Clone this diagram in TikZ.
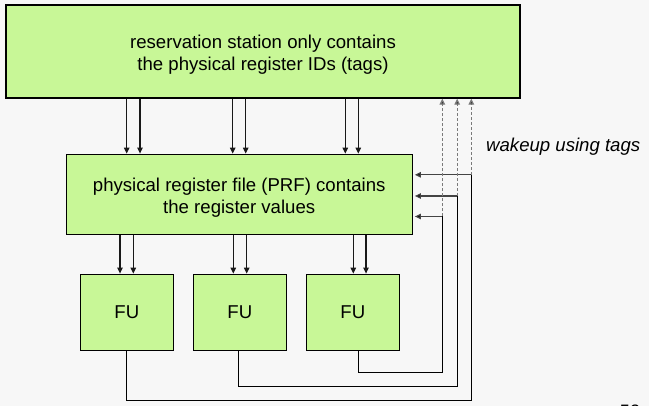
\documentclass[tikz,border=0pt]{standalone}
\usepackage{fontspec}
\setmainfont{Liberation Sans}
\usetikzlibrary{arrows.meta}
\definecolor{bg}{HTML}{F7F7F7}
\definecolor{boxgreen}{HTML}{C8F797}
\definecolor{dashgray}{HTML}{7A7A7A}
\definecolor{tipgray}{HTML}{444444}
\begin{document}
\begin{tikzpicture}[x=1pt,y=-1pt,
  box/.style={draw=black,line width=1.4pt,fill=boxgreen,inner sep=0pt},
  txt/.style={font=\fontsize{18.6}{21.8}\selectfont,align=center},
  feed/.style={draw=black!90,line width=1.2pt,-{Triangle[length=6pt,width=5.5pt]}},
  wire/.style={draw=black,line width=1.1pt},
  back/.style={draw=tipgray,line width=1.2pt,shorten >=2pt,-{Triangle[length=6pt,width=5.5pt,fill=black]}},
  tagline/.style={draw=dashgray,line width=1.3pt,dash pattern=on 3pt off 2pt,-{Triangle[length=6pt,width=5.5pt,fill=black]}}
]
\fill[bg] (0,0) rectangle (649,406);
\useasboundingbox (0,0) rectangle (649,406);

% boxes
\node[box,minimum width=514pt,minimum height=93pt,
  label={[txt,yshift=-3pt]center:{reservation station only contains\\the physical register IDs (tags)}}] (rs) at (263,51.5) {};
\node[box,minimum width=346pt,minimum height=80pt,
  label={[txt,yshift=-3pt]center:{physical register file (PRF) contains\\the register values}}] (prf) at (239.2,194.3) {};
\node[box,txt,minimum width=93pt,minimum height=76pt] (fu1) at (126.8,312.3) {FU};
\node[box,txt,minimum width=93pt,minimum height=76pt] (fu2) at (239.8,312.3) {FU};
\node[box,txt,minimum width=93pt,minimum height=76pt] (fu3) at (352.8,312.3) {FU};

\node[font=\fontsize{18.6}{22}\selectfont\itshape,anchor=base west,inner sep=0pt] (wk) at (486,151.5) {wakeup using tags};
\node[font=\fontsize{18}{22}\selectfont,anchor=base,inner sep=0pt] (pg) at (630,417.5) {52};

% x positions of the operand lines
\foreach \n/\x in {a1/126.7,a2/140,a3/232.7,a4/245.7,a5/345.3,a6/358.3,
                   f1/120,f2/133.3,f3/233.3,f4/246.7,f5/353.3,f6/366,
                   r1/126.7,r2/238.3,r3/358.3}
  \coordinate (\n) at (\x,0);
% wakeup junctions and bottom levels
\coordinate (w1) at (442.3,216.5);
\coordinate (w2) at (457.2,196);
\coordinate (w3) at (471.3,174.8);
\coordinate (y1) at (0,400.3);
\coordinate (y2) at (0,386.3);
\coordinate (y3) at (0,372.3);

% reservation station -> PRF
\foreach \c in {a1,a2,a3,a4,a5,a6}
  \draw[feed] (rs.south -| \c) -- (prf.north -| \c);
% PRF -> FUs
\draw[feed] (prf.south -| f1) -- (fu1.north -| f1);
\draw[feed] (prf.south -| f2) -- (fu1.north -| f2);
\draw[feed] (prf.south -| f3) -- (fu2.north -| f3);
\draw[feed] (prf.south -| f4) -- (fu2.north -| f4);
\draw[feed] (prf.south -| f5) -- (fu3.north -| f5);
\draw[feed] (prf.south -| f6) -- (fu3.north -| f6);

% results back
\draw[wire] (fu3.south -| r3) |- (w1 |- y3) -- (w1);
\draw[wire] (fu2.south -| r2) |- (w2 |- y2) -- (w2);
\draw[wire] (fu1.south -| r1) |- (w3 |- y1) -- (w3);
\draw[back] (w1) -- (w1 -| prf.east);
\draw[back] (w2) -- (w2 -| prf.east);
\draw[back] (w3) -- (w3 -| prf.east);
% wakeup tags
\draw[tagline] (w1) -- (w1 |- rs.south);
\draw[tagline] (w2) -- (w2 |- rs.south);
\draw[tagline] (w3) -- (w3 |- rs.south);
\end{tikzpicture}
\end{document}
